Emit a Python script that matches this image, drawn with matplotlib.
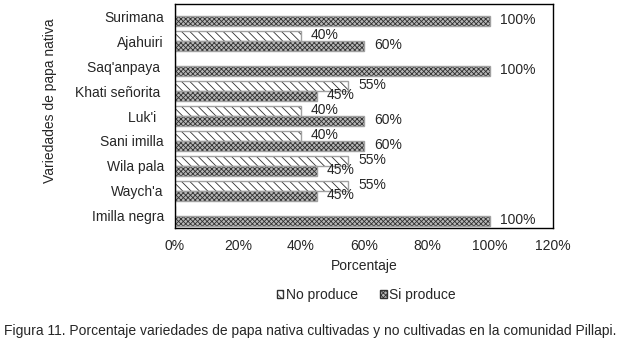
import numpy as np
import matplotlib.pyplot as plt
from matplotlib.patches import Patch

plt.rcParams['font.family'] = ['Liberation Sans', 'DejaVu Sans']
plt.rcParams['hatch.linewidth'] = 0.6

variedades = ["Surimana", "Ajahuiri", "Saq'anpaya ", "Khati señorita ", "Luk'i  ",
              "Sani imilla", "Wila pala", "Waych'a", "Imilla negra"]
no_produce = [0, 0.40, 0, 0.55, 0.40, 0.40, 0.55, 0.55, 0]
si_produce = [1.00, 0.60, 1.00, 0.45, 0.60, 0.60, 0.45, 0.45, 1.00]
xticks = [0, 0.2, 0.4, 0.6, 0.8, 1.0, 1.2]

FS = 10
TXT = '#262626'

fig = plt.figure(figsize=(6.28, 3.47), dpi=100, facecolor='w')
ax = fig.add_axes([0.2787, 0.3429, 0.6019, 0.6456])

y = np.arange(len(variedades))
h = 0.4
HATCH_NO = '\\\\\\\\'
HATCH_SI = 'xxxxxxx'
FACE_SI = '#b8b8b8'

def draw(vals, offset, hatch, face):
    pos = y + offset
    ax.barh(pos, vals, height=h, color=face, edgecolor='#303030',
            hatch=hatch, linewidth=0)
    ax.barh(pos, vals, height=h, fill=False, edgecolor='#a0a0a0', linewidth=1.0)
    for p, v in zip(pos, vals):
        if v > 0:
            ax.annotate("{:.0f}%".format(v * 100), (v, p), xytext=(10, 1),
                        textcoords='offset pixels', va='center', ha='left',
                        fontsize=FS, color=TXT)

draw(no_produce, -h / 2, HATCH_NO, 'white')
draw(si_produce, h / 2, HATCH_SI, FACE_SI)

ax.set_ylim(len(variedades) - 0.5, -0.5)
ax.set_xlim(0, 1.2)
ax.set_xticks(xticks)
ax.set_xticklabels(["{:.0f}%".format(t * 100) for t in xticks], fontsize=FS, color=TXT)
ax.set_yticks(y)
ax.set_yticklabels(variedades, fontsize=FS, color=TXT)
ax.tick_params(length=0, pad=8)
ax.tick_params(axis='x', pad=8)
for s in ax.spines.values():
    s.set_color('black')
    s.set_linewidth(1.0)

ax.set_xlabel("Porcentaje", fontsize=FS, labelpad=4, color=TXT)
fig.text(50 / 628, 1 - 101 / 347, "Variedades de papa nativa", rotation=90,
         ha='center', va='center', fontsize=FS, color=TXT)

handles = [Patch(facecolor='white', edgecolor='#303030', hatch=HATCH_NO, label='No produce'),
           Patch(facecolor=FACE_SI, edgecolor='#303030', hatch=HATCH_SI, label='Si produce')]
fig.legend(handles=handles, loc='center', bbox_to_anchor=(366 / 628, 1 - 295 / 347),
           ncol=2, frameon=False, fontsize=FS, handlelength=0.5, handleheight=0.5,
           handletextpad=0.15, columnspacing=1.6, labelcolor=TXT)

fig.text(310 / 628, 1 - 331 / 347,
         "Figura 11. Porcentaje variedades de papa nativa cultivadas y no cultivadas en la comunidad Pillapi.",
         ha='center', va='center', fontsize=FS, color=TXT)

fig.savefig("out.png", dpi=100)
